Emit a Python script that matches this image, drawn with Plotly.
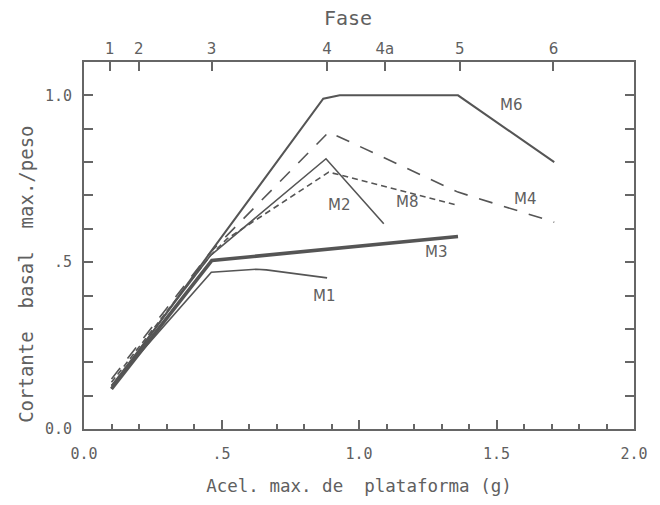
import plotly.graph_objects as go

# Phase positions (top axis) in g
fase_labels = ["1", "2", "3", "4", "4a", "5", "6"]
fase_pos = [0.094, 0.199, 0.464, 0.884, 1.094, 1.366, 1.707]

# Series (x = acel. max. de plataforma, y = cortante basal max./peso)
m6_x = [0.10, 0.46, 0.87, 0.93, 1.36, 1.71]
m6_y = [0.12, 0.53, 0.99, 1.00, 1.00, 0.80]

m4_x = [0.10, 0.46, 0.89, 1.36, 1.71]
m4_y = [0.15, 0.53, 0.89, 0.71, 0.62]

m8_x = [0.10, 0.46, 0.52, 0.89, 1.36]
m8_y = [0.14, 0.52, 0.57, 0.77, 0.67]

m2_x = [0.10, 0.46, 0.88, 1.09]
m2_y = [0.13, 0.52, 0.81, 0.615]

m3_x = [0.10, 0.465, 1.36]
m3_y = [0.12, 0.505, 0.577]

m1_x = [0.10, 0.463, 0.627, 0.663, 0.884]
m1_y = [0.13, 0.470, 0.479, 0.477, 0.453]

labels = ["M6", "M4", "M8", "M2", "M3", "M1"]
label_x = [1.555, 1.605, 1.178, 0.93, 1.283, 0.873]
label_y = [0.97, 0.69, 0.68, 0.67, 0.53, 0.40]

ink = "#555555"
frame = "#666666"
txt = "#606060"

fig = go.Figure()
series = [
    (m6_x, m6_y, 2.0, "solid"),
    (m4_x, m4_y, 1.6, "14px,12px"),
    (m8_x, m8_y, 1.6, "6px,4px"),
    (m2_x, m2_y, 1.6, "solid"),
    (m3_x, m3_y, 3.6, "solid"),
    (m1_x, m1_y, 1.6, "solid"),
]
for (xs, ys, w, d), name in zip(series, labels):
    fig.add_trace(go.Scatter(x=xs, y=ys, mode="lines", name=name,
                             line=dict(color=ink, width=w, dash=d),
                             showlegend=False, hoverinfo="skip"))

# invisible trace to activate top axis
fig.add_trace(go.Scatter(x=fase_pos, y=[0.5] * len(fase_pos), xaxis="x2",
                         mode="markers", marker=dict(opacity=0),
                         showlegend=False, hoverinfo="skip"))

for t, lx, ly in zip(labels, label_x, label_y):
    fig.add_annotation(x=lx, y=ly, text=t, showarrow=False,
                       font=dict(family="DejaVu Sans", size=15, color=txt))

tickfont = dict(family="DejaVu Sans Mono", size=15, color=txt)
fig.update_layout(
    width=660, height=505,
    margin=dict(l=84, r=24, t=62, b=72),
    paper_bgcolor="white", plot_bgcolor="white",
    xaxis=dict(range=[0, 2.0], tickvals=[0, 0.5, 1.0, 1.5, 2.0],
               ticktext=["0.0", ".5", "1.0", "1.5", "2.0"],
               ticks="inside", ticklen=9, tickcolor=frame, tickwidth=1.5,
               ticklabelstandoff=10,
               minor=dict(dtick=0.1, ticks="inside", ticklen=5, tickcolor=frame, tickwidth=1.5),
               showline=True, linecolor=frame, linewidth=2, mirror=True,
               showgrid=False, zeroline=False, tickfont=tickfont,
               title=dict(text="Acel. max. de\u00a0\u00a0plataforma (g)",
                          font=dict(family="DejaVu Sans Mono", size=17.5, color=txt),
                          standoff=18)),
    xaxis2=dict(range=[0, 2.0], overlaying="x", side="top",
                tickvals=fase_pos, ticktext=fase_labels,
                ticks="inside", ticklen=9, tickcolor=frame, tickwidth=1.5,
                ticklabelstandoff=4,
                showline=False, showgrid=False, zeroline=False,
                tickfont=dict(family="DejaVu Sans", size=15, color=txt)),
    yaxis=dict(range=[0, 1.1], tickvals=[0, 0.5, 1.0],
               ticktext=["0.0", ".5", "1.0"],
               ticks="inside", ticklen=9, tickcolor=frame, tickwidth=1.5,
               ticklabelstandoff=7,
               minor=dict(dtick=0.1, ticks="inside", ticklen=5, tickcolor=frame, tickwidth=1.5),
               showline=True, linecolor=frame, linewidth=2, mirror="allticks",
               showgrid=False, zeroline=False, tickfont=tickfont),
)
# y-axis title (placed slightly below centre, as in the original)
fig.add_annotation(x=0, y=0.42, xref="paper", yref="paper", xshift=-58,
                   text="Cortante\u00a0\u00a0basal\u00a0\u00a0max./peso", textangle=-90,
                   showarrow=False, xanchor="center", yanchor="middle",
                   font=dict(family="DejaVu Sans Mono", size=19, color=txt))
fig.add_annotation(x=0.48, y=1.0, xref="paper", yref="paper", yshift=44,
                   text="Fase", showarrow=False, yanchor="middle",
                   font=dict(family="DejaVu Sans Mono", size=20, color=txt))

fig.write_html("out.html", config={"displayModeBar": False},
               post_script="document.body.style.margin='0px';document.body.style.overflow='hidden';")
